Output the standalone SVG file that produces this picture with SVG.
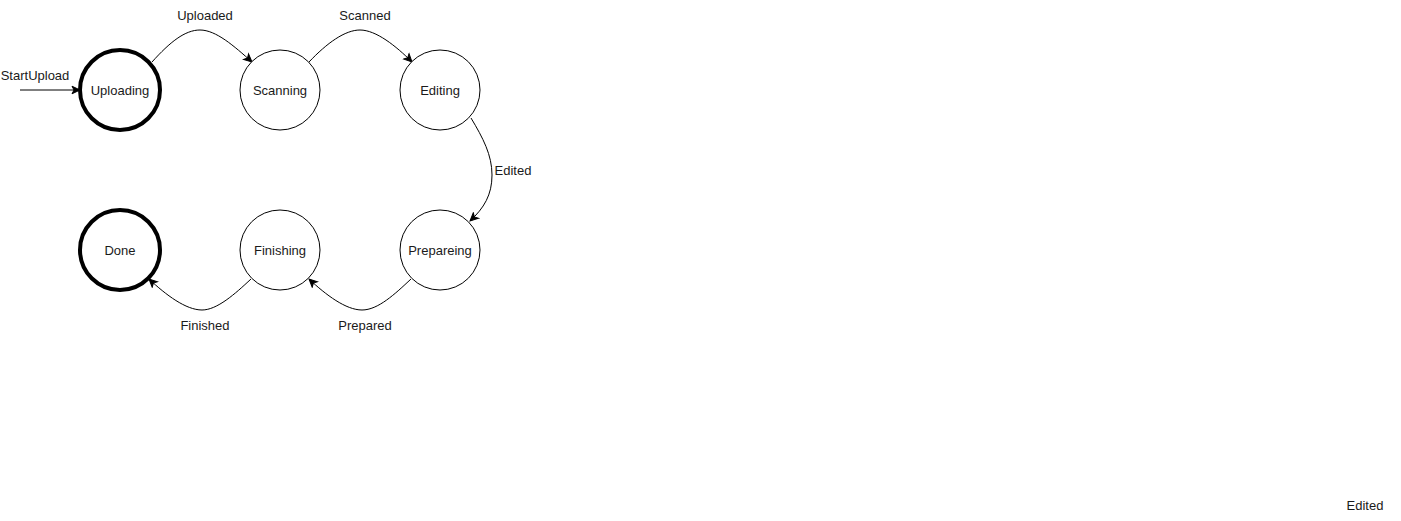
<svg xmlns="http://www.w3.org/2000/svg" width="1401" height="521" viewBox="0 0 1401 521">
  <style>
    .state { fill: #ffffff; stroke: #000000; stroke-width: 1; }
    .state.terminal { stroke-width: 4; }
    .name { font-family: "Liberation Sans", Arial, sans-serif; font-size: 13px; fill: #1a1a1a; text-anchor: middle; dominant-baseline: central; }
    .edge { fill: none; stroke: #000000; stroke-width: 1; marker-end: url(#arrow); }
    .elabel { font-family: "Liberation Sans", Arial, sans-serif; font-size: 13px; fill: #1a1a1a; text-anchor: middle; dominant-baseline: central; }
  </style>
  <defs>
    <marker id="arrow" markerUnits="userSpaceOnUse" markerWidth="10" markerHeight="10" viewBox="0 0 10 10" refX="9" refY="5" orient="auto">
      <path d="M1,1.2 L9,5 L1,8.8 L3,5 Z" fill="#000" stroke="#000" stroke-width="1"/>
    </marker>
  </defs>
  <rect width="1401" height="521" fill="#ffffff"/>

  <g id="connectors">
    <g id="e-start">
      <path class="edge" d="M20,90 L80,90"/>
      <text class="elabel" x="35" y="75">StartUpload</text>
    </g>
    <g id="e-uploaded">
      <path class="edge" d="M152,62 C170,42 185,30 200,30 C216,30 234,46 252,62"/>
      <text class="elabel" x="205" y="15">Uploaded</text>
    </g>
    <g id="e-scanned">
      <path class="edge" d="M309,62 C327,43 345,30 360,30 C376,30 396,46 412,62"/>
      <text class="elabel" x="365" y="15">Scanned</text>
    </g>
    <g id="e-edited">
      <path class="edge" d="M471,118 C483,138 492,155 492,175 C492,195 484,208 470,221"/>
      <text class="elabel" x="513" y="170">Edited</text>
    </g>
    <g id="e-prepared">
      <path class="edge" d="M411,279 C395,294 378,310 362,310 C346,310 326,295 309,279"/>
      <text class="elabel" x="365" y="325">Prepared</text>
    </g>
    <g id="e-finished">
      <path class="edge" d="M251,279 C235,294 217,310 202,310 C186,310 166,295 149,279"/>
      <text class="elabel" x="205" y="325">Finished</text>
    </g>
    <text class="elabel" x="1365" y="505">Edited</text>
  </g>

  <g id="uploading">
    <circle class="state terminal" cx="120" cy="90" r="40"/>
    <text class="name" x="120" y="90">Uploading</text>
  </g>
  <g id="scanning">
    <circle class="state" cx="280" cy="90" r="40"/>
    <text class="name" x="280" y="90">Scanning</text>
  </g>
  <g id="editing">
    <circle class="state" cx="440" cy="90" r="40"/>
    <text class="name" x="440" y="90">Editing</text>
  </g>
  <g id="prepareing">
    <circle class="state" cx="440" cy="250" r="40"/>
    <text class="name" x="440" y="250">Prepareing</text>
  </g>
  <g id="finishing">
    <circle class="state" cx="280" cy="250" r="40"/>
    <text class="name" x="280" y="250">Finishing</text>
  </g>
  <g id="done">
    <circle class="state terminal" cx="120" cy="250" r="40"/>
    <text class="name" x="120" y="250">Done</text>
  </g>
</svg>
